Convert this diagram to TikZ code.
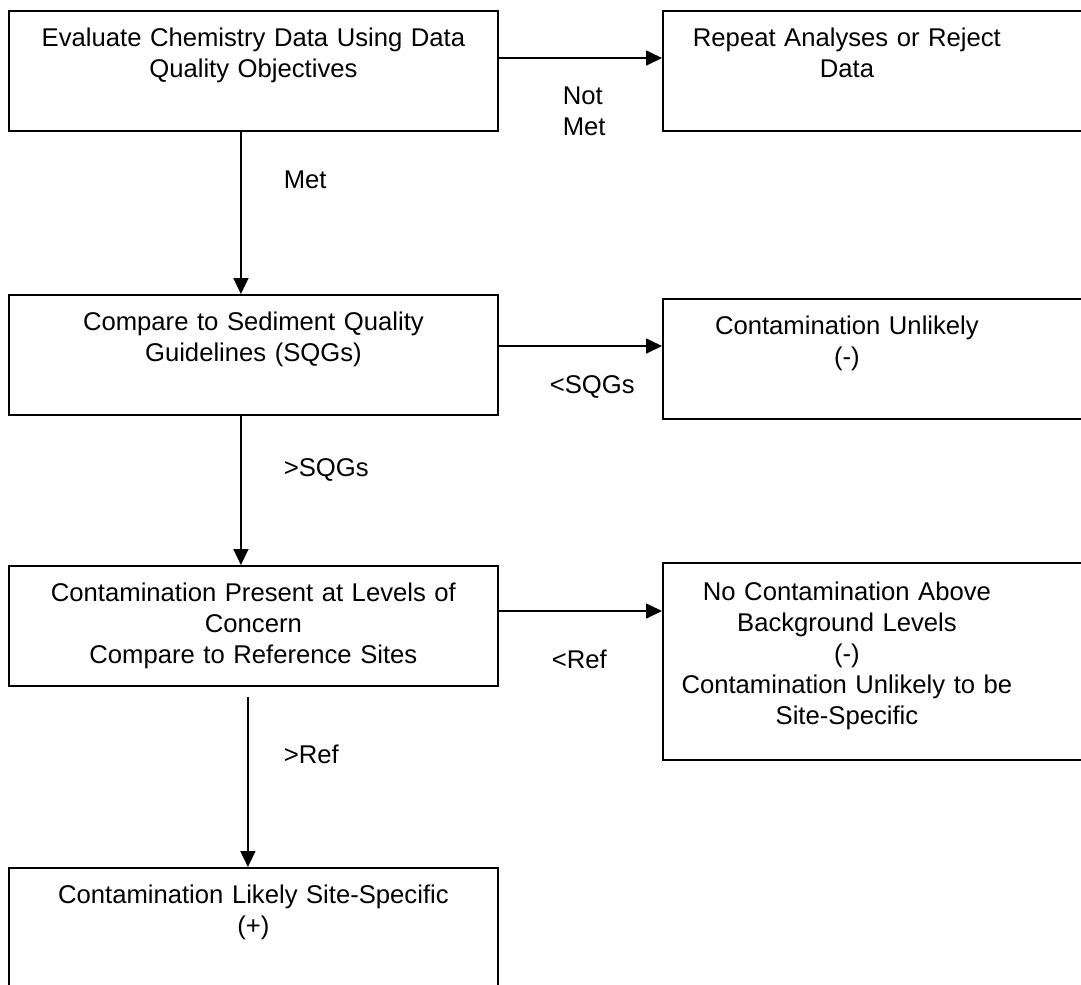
\documentclass[tikz,border=0pt]{standalone}
\usepackage{fontspec}
\setmainfont{Liberation Sans}
\usepackage{tikz}
\usetikzlibrary{
	arrows.meta,
	positioning,
	calc
}

\tikzset{
	box/.style={draw, rectangle, line width=1.1pt, anchor=north west,
		inner xsep=0pt, inner ysep=0pt, text width=9.78cm, align=center,
		text height=0.72cm, text depth=1.68cm},
	rbox/.style={box, execute at begin node={\advance\rightskip by 2.42cm\relax}},
	lbl/.style={inner sep=0pt, anchor=base west}
}

\begin{document}
\begin{tikzpicture}[>={Triangle[length=0.32cm,width=0.3cm]},x=0.02cm,y=-0.02cm,
	line width=0.95pt,font=\fontsize{14.6}{17.6}\selectfont]
	
	\useasboundingbox (0,0) rectangle (1081,984);
	
	% Left column
	\node[box] (eval) at (8,10) {Evaluate Chemistry Data Using Data\\Quality Objectives};
	\node[box] (sqg) at (8,294) {Compare to Sediment Quality\\Guidelines (SQGs)};
	\node[box] (pres) at (8,565) {Contamination Present at Levels of\\Concern\\Compare to Reference Sites};
	\node[box] (site) at (8,867) {Contamination Likely Site-Specific\\(+)};
	
	% Right column
	\node[rbox] (rep) at (662,10) {Repeat Analyses or Reject\\Data};
	\node[rbox] (unl) at (662,298) {Contamination Unlikely\\(-)};
	\node[rbox, text height=0.76cm, text depth=3.18cm] (bkg) at (662,562)
		{No Contamination Above\\Background Levels\\(-)\\Contamination Unlikely to be\\Site-Specific};
	
	% Data quality
	\draw[->] ($(eval.south)+(-12.5,0)$) coordinate (m1) -- (m1 |- sqg.north);
	\node[lbl] (met) at (283,188) {Met};
	
	\draw[->] ($(eval.north east)+(0,48)$) coordinate (n1) -- (n1 -| rep.west);
	\node[anchor=north west, inner sep=0pt, align=left] (notmet) at (562,86) {Not\\Met};
	
	% SQGs
	\draw[->] ($(sqg.south)+(-12.5,0)$) coordinate (s1) -- (s1 |- pres.north);
	\node[lbl] (gtsqg) at (283,476) {>SQGs};
	
	\draw[->] ($(sqg.north east)+(0,52)$) coordinate (s2) -- (s2 -| unl.west);
	\node[lbl] (ltsqg) at (549,393) {<SQGs};
	
	% Reference sites
	\draw[->] ($(pres.south)+(-5.5,10)$) coordinate (r1) -- (r1 |- site.north);
	\node[lbl] (gtref) at (283,763) {>Ref};
	
	\draw[->] ($(pres.north east)+(0,46)$) coordinate (r2) -- (r2 -| bkg.west);
	\node[lbl] (ltref) at (551,668) {<Ref};
	
\end{tikzpicture}
\end{document}
